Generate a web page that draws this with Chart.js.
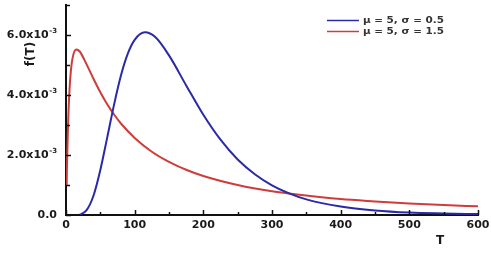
<!DOCTYPE html>
<html>
<head>
<meta charset="utf-8">
<script src="https://cdn.jsdelivr.net/npm/chart.js@4/dist/chart.umd.min.js"></script>
<style>
  html, body { margin: 0; padding: 0; background: #fff; }
  #wrap { width: 491px; height: 256px; }
</style>
</head>
<body>
<div id="wrap"><canvas id="cnv"></canvas></div>
<script>
// values
const blueT = [20, 30, 40, 50, 60, 70, 80, 90, 100, 115, 130, 150, 175, 200, 225, 250, 275, 300, 325, 350, 400, 450, 500, 550, 600];
const blueF = [0.00001, 0.00016, 0.00064, 0.0015, 0.00258, 0.00368, 0.00465, 0.00538, 0.00584, 0.00609, 0.00593, 0.00532, 0.00432, 0.00334, 0.00251, 0.00185, 0.00136, 0.00099, 0.00072, 0.00052, 0.00028, 0.00015, 0.00008, 0.00005, 0.00003];
const redT = [1, 1.01, 2, 3, 5, 7, 10, 15, 20, 30, 40, 50, 60, 70, 80, 100, 125, 150, 175, 200, 250, 300, 350, 400, 450, 500, 550, 600];
const redF = [0.001, 0.00103, 0.00216, 0.00301, 0.00413, 0.00478, 0.00528, 0.00552, 0.00545, 0.00502, 0.00454, 0.00409, 0.00369, 0.00335, 0.00305, 0.00257, 0.00211, 0.00177, 0.00151, 0.0013, 0.001, 0.00079, 0.00065, 0.00053, 0.00045, 0.00038, 0.00033, 0.00029];
const seriesLabels = ['\u03bc = 5, \u03c3 = 0.5', '\u03bc = 5, \u03c3 = 1.5'];
const seriesColors = ['#2a2aa8', '#cf3c3c'];
const xTicks = [0, 100, 200, 300, 400, 500, 600];
const yTicks = [0, 0.002, 0.004, 0.006];
const yTickText = [['0.0', ''], ['2.0x10', '-3'], ['4.0x10', '-3'], ['6.0x10', '-3']];

const toPoints = (xs, ys) => xs.map((x, i) => ({ x: x, y: ys[i] }));

// inward ticks, labels with superscripts, axis titles and the legend box
const decor = {
  id: 'decor',
  afterDraw(chart) {
    const ctx = chart.ctx;
    const xs = chart.scales.x;
    const ys = chart.scales.y;
    const area = chart.chartArea;
    ctx.save();
    ctx.strokeStyle = '#111';
    ctx.lineWidth = 1.5;
    for (let v = 0; v <= 600; v += 50) {
      const px = Math.round(xs.getPixelForValue(v)) + 0.5;
      const len = v % 100 === 0 ? 5 : 3;
      ctx.beginPath();
      ctx.moveTo(px, area.bottom);
      ctx.lineTo(px, area.bottom - len);
      ctx.stroke();
    }
    for (let k = 0; k <= 7; k++) {
      const py = Math.round(ys.getPixelForValue(k * 0.001)) + 0.5;
      const len = k % 2 === 0 ? 5 : 4;
      ctx.beginPath();
      ctx.moveTo(area.left, py);
      ctx.lineTo(area.left + len, py);
      ctx.stroke();
    }
    ctx.fillStyle = '#1a1a1a';
    ctx.font = 'bold 11px "DejaVu Sans"';
    ctx.textAlign = 'center';
    ctx.textBaseline = 'middle';
    xTicks.forEach(v => ctx.fillText(String(v), xs.getPixelForValue(v), 225));
    yTicks.forEach((v, i) => {
      const py = ys.getPixelForValue(v);
      const main = yTickText[i][0];
      const sup = yTickText[i][1];
      ctx.font = 'bold 7px "DejaVu Sans"';
      const supW = sup ? ctx.measureText(sup).width : 0;
      ctx.textAlign = 'right';
      if (sup) ctx.fillText(sup, 57, py - 4);
      ctx.font = 'bold 11px "DejaVu Sans"';
      ctx.fillText(main, 57 - supW - (sup ? 0.5 : 0), py);
    });
    ctx.font = 'bold 12px "DejaVu Sans"';
    ctx.textAlign = 'center';
    ctx.fillText('T', 440, 241);
    ctx.save();
    ctx.translate(31, 54);
    ctx.rotate(-Math.PI / 2);
    ctx.fillText('f(T)', 0, 0);
    ctx.restore();
    chart.data.datasets.forEach((ds, i) => {
      const y = 20.5 + i * 11;
      ctx.strokeStyle = ds.borderColor;
      ctx.lineWidth = 1.5;
      ctx.beginPath();
      ctx.moveTo(327, y);
      ctx.lineTo(359, y);
      ctx.stroke();
      ctx.save();
      ctx.translate(363, y);
      ctx.scale(1.3, 1);
      ctx.fillStyle = '#333';
      ctx.font = 'bold 8px "DejaVu Sans"';
      ctx.textAlign = 'left';
      ctx.textBaseline = 'middle';
      ctx.fillText(ds.label, 0, 0.5);
      ctx.restore();
    });
    ctx.restore();
  }
};

new Chart(document.getElementById('cnv').getContext('2d'), {
  type: 'line',
  data: {
    datasets: [
      { label: seriesLabels[0], data: toPoints(blueT, blueF), borderColor: seriesColors[0] },
      { label: seriesLabels[1], data: toPoints(redT, redF), borderColor: seriesColors[1] }
    ]
  },
  options: {
    responsive: true,
    maintainAspectRatio: false,
    animation: false,
    layout: { padding: { top: 5, right: 13, left: 0, bottom: 0 } },
    elements: {
      point: { radius: 0 },
      line: { borderWidth: 2, cubicInterpolationMode: 'monotone', fill: false }
    },
    plugins: { legend: { display: false }, tooltip: { enabled: false } },
    scales: {
      x: {
        type: 'linear', min: 0, max: 600,
        grid: { display: false },
        border: { display: true, color: '#111', width: 2 },
        ticks: { display: false },
        afterFit: s => { s.height = 41; }
      },
      y: {
        type: 'linear', min: 0, max: 0.007,
        grid: { display: false },
        border: { display: true, color: '#111', width: 2 },
        ticks: { display: false },
        afterFit: s => { s.width = 66; }
      }
    }
  },
  plugins: [decor]
});
</script>
</body>
</html>
